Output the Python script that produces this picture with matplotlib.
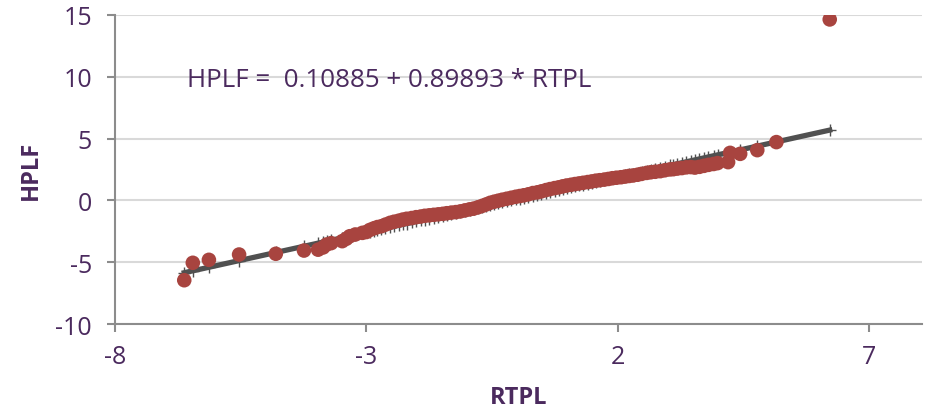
import numpy as np
import matplotlib.pyplot as plt

plt.rcParams['axes.unicode_minus'] = False
plt.rcParams['font.family'] = ['Open Sans', 'DejaVu Sans']

# regression shown on the chart
intercept = 0.10885
slope = 0.89893

rtpl = [-6.62, -6.45, -6.13, -5.53, -4.80, -4.24, -3.96, -3.86, -3.79, -3.70,
        -3.48, -3.40, -3.33, -3.22, -3.08, -3.00, -2.93, -2.85, -2.78, -2.70,
        -2.62, -2.53, -2.45, -2.36, -2.28, -2.20, -2.10, -2.01, -1.92, -1.84,
        -1.75, -1.66, -1.57, -1.48, -1.40, -1.31, -1.22, -1.13, -1.04, -0.95,
        -0.87, -0.78, -0.70, -0.62, -0.54, -0.46, -0.38, -0.30, -0.21, -0.12,
        -0.03, 0.05, 0.13, 0.22, 0.31, 0.40, 0.48, 0.57, 0.65, 0.74,
        0.82, 0.90, 0.98, 1.07, 1.15, 1.23, 1.31, 1.40, 1.48, 1.56,
        1.64, 1.73, 1.81, 1.89, 1.97, 2.06, 2.14, 2.22, 2.30, 2.39,
        2.47, 2.57, 2.65, 2.74, 2.84, 2.93, 3.03, 3.10, 3.18, 3.27,
        3.36, 3.45, 3.53, 3.62, 3.71, 3.80, 3.90, 3.98, 4.19, 4.23,
        4.43, 4.77, 5.15, 6.21]
hplf = [-6.45, -5.04, -4.80, -4.37, -4.31, -4.05, -3.98, -3.80, -3.56, -3.45,
        -3.29, -3.10, -2.89, -2.75, -2.62, -2.55, -2.38, -2.25, -2.15, -2.08,
        -1.95, -1.81, -1.72, -1.64, -1.55, -1.48, -1.42, -1.35, -1.30, -1.24,
        -1.20, -1.16, -1.12, -1.08, -1.03, -0.98, -0.94, -0.88, -0.80, -0.72,
        -0.66, -0.55, -0.44, -0.32, -0.19, -0.10, -0.02, 0.06, 0.14, 0.22,
        0.30, 0.36, 0.42, 0.50, 0.60, 0.66, 0.74, 0.84, 0.92, 1.00,
        1.06, 1.14, 1.21, 1.27, 1.33, 1.38, 1.43, 1.49, 1.54, 1.60,
        1.64, 1.69, 1.74, 1.80, 1.84, 1.88, 1.93, 1.98, 2.02, 2.08,
        2.15, 2.23, 2.28, 2.32, 2.37, 2.44, 2.51, 2.53, 2.58, 2.62,
        2.68, 2.70, 2.66, 2.72, 2.80, 2.88, 2.95, 3.02, 3.10, 3.85,
        3.77, 4.07, 4.72, 14.64]

xticks = [-8, -3, 2, 7]
yticks = [-10, -5, 0, 5, 10, 15]

txt = '#4B2A5E'
grid = '#D9D9D9'
axis_c = '#8C8C8C'

x = np.array(rtpl)
fitted = intercept + slope * x

fig = plt.figure(figsize=(9.26, 4.10), dpi=100)
ax = fig.add_axes([0.124, 0.207, 0.872, 0.754])

ax.plot(x, fitted, color='#505050', lw=3.8, marker='+', ms=9, mew=1.0, zorder=2)
ax.scatter(x, hplf, s=110, color='#A8443F', edgecolors='none', zorder=3)

ax.set_xlim(-8, 8.05)
ax.set_ylim(-10, 15)
ax.set_xticks(xticks)
ax.set_yticks(yticks)
ax.yaxis.grid(True, color=grid, lw=1.5)
ax.set_axisbelow(True)

for s in ['top', 'right']:
    ax.spines[s].set_visible(False)
for s in ['left', 'bottom']:
    ax.spines[s].set_color(axis_c)
    ax.spines[s].set_linewidth(1.5)

ax.tick_params(axis='both', colors=axis_c, labelcolor=txt, labelsize=18,
               length=5.5, width=1.5)
ax.tick_params(axis='x', pad=9)
ax.tick_params(axis='y', pad=11)

ax.set_xlabel('RTPL', fontsize=17, fontweight='bold', color=txt, labelpad=11)
ax.set_ylabel('HPLF', fontsize=17, fontweight='bold', color=txt, labelpad=9)

ax.text(-6.57, 9.8, 'HPLF =  0.10885 + 0.89893 * RTPL', fontsize=18.7,
        color=txt, va='center', ha='left')

plt.savefig('out.png', dpi=100)
